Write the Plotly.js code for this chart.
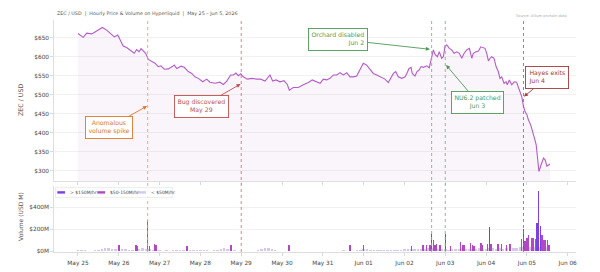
<!DOCTYPE html>
<html>
<head>
<meta charset="utf-8">
<script src="https://cdn.plot.ly/plotly-3.0.1.min.js"></script>
<style>html,body{margin:0;padding:0;background:#fff;}#chart{width:600px;height:272px;}</style>
</head>
<body>
<div id="chart"></div>
<script>
// ---- DATA (hours since 2026-05-25 00:00) ----
const priceHours = [0,3.1,5.1,8.1,10,11.9,14.3,16.9,18.8,21.4,
23.4,24.7,26.6,28.6,30.6,33.1,34.5,35.9,37.1,38.4,
39.8,41.4,43.4,45.3,47.2,48.8,50.8,53.1,55.5,56.6,
58.1,60.6,62.5,64.9,66.9,68.8,70.8,73.4,75.7,77.6,
80.6,83.5,85.5,87.5,89.8,91.4,92.9,94.3,95.7,97.2,
99.6,102.2,105.1,107.5,110,112.9,114.5,116.5,118.8,121.2,
123.1,124.3,126.6,129.6,132.5,135.5,137.8,140.4,142.4,144.3,
146.3,148.2,150.2,152.2,154.1,156.1,158.1,160,161.9,163.9,
165.9,167.8,169.8,171.8,173.7,175.7,178.2,180.6,182.5,184.1,
185.5,186.9,188.4,190.4,192.4,193.4,194.7,195.9,196.6,198.2,
199.4,200.6,201.8,203.1,205.1,206.6,208.1,209,210,211.4,
212.5,213.9,214.9,215.9,216.9,218.4,219.8,221.2,222.8,224.3,
225.7,227.1,228.6,230.2,231.6,232.5,234.1,235.5,236.9,238.4,
239.4,240.4,241.4,242.4,243.3,244.7,245.9,247.2,248.2,249.2,
250.6,251.8,252.5,253.7,255.1,256.5,258,258.9,260,261,
262,263,264,264.9,266.3,267.5,268.5,269.5,270.3,271.1,
272.3,273.8,274.8,275.8,276.8,277.6];
const priceValues = [661,651,662,660,665,670,677,670,663,652,
657,644,628,624,618,609,619,613,621,616,
609,593,587,583,574,576,567,568,574,578,
569,575,572,561,556,547,543,534,541,533,
530,533,527,536,552,552,557,550,555,547,
541,543,541,541,536,552,536,539,534,537,
527,512,519,519,526,532,539,534,530,541,
539,543,552,552,558,552,558,547,547,549,
565,583,578,565,556,552,547,541,532,543,
556,561,547,543,547,556,569,572,556,549,
561,565,574,572,576,571,596,618,606,600,
613,596,600,629,631,622,618,609,613,609,
596,609,618,622,596,609,613,615,626,624,
622,609,589,596,600,596,574,561,543,547,
530,534,526,539,526,534,533,521,508,495,
470,455,448,434,420,403,385,368,335,298,
315,333,328,312,315,318];

// low-volume bars (< $50M/hr), every 2 hours starting at hour 0
const lowHours = [0,2,4,6,8,10,12,14,16,18,20,22,24,26,28,30,32,34,36,38,40,42,44,46,48,50,52,54,56,58,60,62,64,66,68,70,72,74,76,78,80,82,84,86,88,90,92,94,96,98,100,102,104,106,108,110,112,114,116,118,120,122,124,126,128,130,132,134,136,138,140,142,144,146,148,150,152,154,156,158,160,162,164,166,168,170,172,174,176,178,180,182,184,186,188,190,192,194,196,198,200,202,204,206,208,210,212,214,216,218,220,222,224,226,228,230,232,234,236,238,240,242,244,246,248,250,252,254,256,258,260,262,264,266,268,270,272,274,276];
const lowVol = [10,12,11,4,3,8,14,20,28,30,22,18,24,22,20,12,9,10,22,28,25,18,14,12,8,6,9,7,10,8,12,14,10,12,15,13,9,10,8,6,10,14,24,26,20,12,8,6,5,4,6,5,4,8,18,30,28,20,8,5,4,3,5,4,6,5,3,4,6,5,3,4,5,6,4,5,7,6,8,5,9,7,12,16,20,18,15,12,10,8,12,14,15,12,14,16,20,22,18,25,20,24,22,26,30,25,20,18,22,15,18,24,20,26,22,25,18,22,28,20,24,30,26,22,28,25,30,26,32,28,35,38,40,42,38,45,40,44,36];

// mid-volume bars ($50-150M/hr)
const midHours = [24,34,35,41,42,45,46,64,90,124,160,168,196,203,205,207,209,210,211,213,219,225,226,227,231,232,233,237,238,241,243,247,249,252,254,261,263,264,265,267,268,269,273,274,275,276,277];
const midVol = [55,55,50,282,50,65,60,52,60,55,55,55,50,55,55,55,100,60,70,55,50,85,55,55,80,55,50,80,55,70,70,70,70,60,70,110,90,120,145,125,120,115,150,100,100,105,55];

// high-volume bars (> $150M/hr)
const highHours = [208,216,242,262,270,271,272];
const highVol = [155,160,220,200,255,550,230];

// events
const eventHours = [41,96,208,216,262];
const eventLabels = ["Anomalous<br>volume spike","Bug discovered<br>May 29","Orchard disabled<br>Jun 2","NU6.2 patched<br>Jun 3","Hayes exits<br>Jun 4"];
const eventArrowPrice = [470,528,619.5,578,495];
const eventBoxHours = [18.2,72.4,153.1,235.1,275.7];
const eventBoxPrice = [414,468.5,646,479.6,544.5];
const eventColors = ["#d9782d","#c0504d","#4e9a55","#4e9a55","#a5393b"];
const eventLineColors = ["#e9a06a","#cd7a7a","#7bb883","#7bb883","#c06060"];
const eventAlign = ["center","center","right","center","left"];

const priceTicks = [300,350,400,450,500,550,600,650];
const volTicks = [0,200,400];

// ---- helpers ----
const T0 = Date.UTC(2026,4,25,0,0,0);
function hd(h){ return new Date(T0 + h*3600000).toISOString().slice(0,19).replace('T',' '); }
const FONT = "DejaVu Sans";

const traces = [
  {x: priceHours.map(hd), y: priceValues, type:'scatter', mode:'lines',
   line:{color:'#b45cc9', width:1.1}, fill:'tozeroy', fillcolor:'rgba(190,110,210,0.08)',
   xaxis:'x', yaxis:'y', showlegend:false, hoverinfo:'skip'},
  {x: lowHours.map(hd), y: lowVol, type:'bar', marker:{color:'#d9c6ee', line:{width:0}},
   width: 1.5*3600000, xaxis:'x2', yaxis:'y2', showlegend:false},
  {x: midHours.map(hd), y: midVol, type:'bar', marker:{color:'#b347c4', line:{width:0}},
   width: 0.85*3600000, xaxis:'x2', yaxis:'y2', showlegend:false},
  {x: highHours.map(hd), y: highVol, type:'bar', marker:{color:'#7b3fe4', line:{width:0}},
   width: 0.85*3600000, xaxis:'x2', yaxis:'y2', showlegend:false}
];

const xr = [hd(-14.1), hd(292.9)];
const shapes = [];
eventHours.forEach((h,i)=>{
  shapes.push({type:'line', xref:'x', yref:'paper', x0:hd(h), x1:hd(h), y0:0, y1:1,
    line:{color:eventLineColors[i], width:0.9, dash:'dot'}, layer:'above'});
});
// manual legend
function px(x){ return (x-54)/522; }
function py(y){ return (252-y)/232; }
shapes.push({type:'rect', xref:'paper', yref:'paper', x0:px(55.5), x1:px(172.5), y0:py(197.5), y1:py(187.5),
  line:{color:'#e2e2e2', width:0.6}, fillcolor:'rgba(255,255,255,0.85)', layer:'above'});
const legColors = ['#7b3fe4','#b347c4','#d9c6ee'];
const legX = [57.3, 97.3, 138.3];
const legText = ['&gt; $150M/hr','$50-150M/hr','&lt; $50M/hr'];
legColors.forEach((c,i)=>{
  shapes.push({type:'rect', xref:'paper', yref:'paper', x0:px(legX[i]), x1:px(legX[i]+7.7), y0:py(193.6), y1:py(191.2),
    line:{width:0}, fillcolor:c, layer:'above'});
});

const annotations = [];
legText.forEach((t,i)=>{
  annotations.push({xref:'paper', yref:'paper', x:px(legX[i]+10.3), y:py(192.5), text:t, showarrow:false,
    xanchor:'left', yanchor:'middle', font:{family:FONT, size:4.5, color:'#444'}});
});
const headShift = [-0.4,-0.4,-1,0.5,0.3];
eventHours.forEach((h,i)=>{
  annotations.push({xref:'x', yref:'y', x:hd(h+headShift[i]), y:eventArrowPrice[i],
    axref:'x', ayref:'y', ax:hd(eventBoxHours[i]), ay:eventBoxPrice[i],
    text:eventLabels[i], showarrow:true, arrowhead:2, arrowsize:0.9, arrowwidth:0.9,
    arrowcolor:eventColors[i], align:eventAlign[i],
    font:{family:FONT, size:6.2, color:eventColors[i]},
    bgcolor:'#ffffff', bordercolor:eventColors[i], borderwidth:0.9, borderpad:2.5});
});
annotations.push({xref:'paper', yref:'paper', x:px(54.5), y:py(14), text:'ZEC / USD  |  Hourly Price &amp; Volume on Hyperliquid  |  May 25 – Jun 5, 2026',
  showarrow:false, xanchor:'left', yanchor:'middle', font:{family:FONT, size:4.8, color:'#555'}});
annotations.push({xref:'paper', yref:'paper', x:px(569), y:py(16), text:'Source: Allium onchain data',
  showarrow:false, xanchor:'right', yanchor:'middle', font:{family:FONT, size:3.6, color:'#aaa'}});
annotations.push({xref:'paper', yref:'paper', x:px(20), y:py(100), text:'ZEC / USD', textangle:-90,
  showarrow:false, xanchor:'center', yanchor:'middle', font:{family:FONT, size:6.3, color:'#555'}});
annotations.push({xref:'paper', yref:'paper', x:px(20), y:py(217), text:'Volume (USD M)', textangle:-90,
  showarrow:false, xanchor:'center', yanchor:'middle', font:{family:FONT, size:6.0, color:'#555'}});

const axCommon = {showgrid:false, zeroline:false, showline:true, linecolor:'#d6d6d6', linewidth:0.8,
  ticks:'outside', ticklen:3, tickcolor:'#cfcfcf', tickwidth:0.8,
  tickfont:{family:FONT, size:5.8, color:'#444'}};

const layout = {
  width:600, height:272,
  margin:{l:54, r:24, t:20, b:20},
  paper_bgcolor:'#ffffff', plot_bgcolor:'#ffffff',
  showlegend:false, barmode:'overlay', bargap:0,
  xaxis: Object.assign({}, axCommon, {type:'date', range:xr, domain:[0,1], anchor:'y',
    showticklabels:false, tick0:'2026-05-25', dtick:86400000}),
  xaxis2: Object.assign({}, axCommon, {type:'date', range:xr, domain:[0,1], anchor:'y2', matches:'x',
    tick0:'2026-05-25', dtick:86400000, tickformat:'%b %d', ticklabelstandoff:2}),
  yaxis: Object.assign({}, axCommon, {domain:[0.3073,1], range:[273.7,696.6], anchor:'x',
    tickvals:priceTicks, ticktext:priceTicks.map(v=>'$'+v), showgrid:true, gridcolor:'#eeeeee', gridwidth:0.8}),
  yaxis2: Object.assign({}, axCommon, {domain:[0,0.2845], range:[-6,592], anchor:'x2',
    tickvals:volTicks, ticktext:volTicks.map(v=>'$'+v+'M'), showgrid:true, gridcolor:'#eeeeee', gridwidth:0.8}),
  shapes: shapes,
  annotations: annotations
};

Plotly.newPlot('chart', traces, layout, {displayModeBar:false, staticPlot:true});
</script>
</body>
</html>
